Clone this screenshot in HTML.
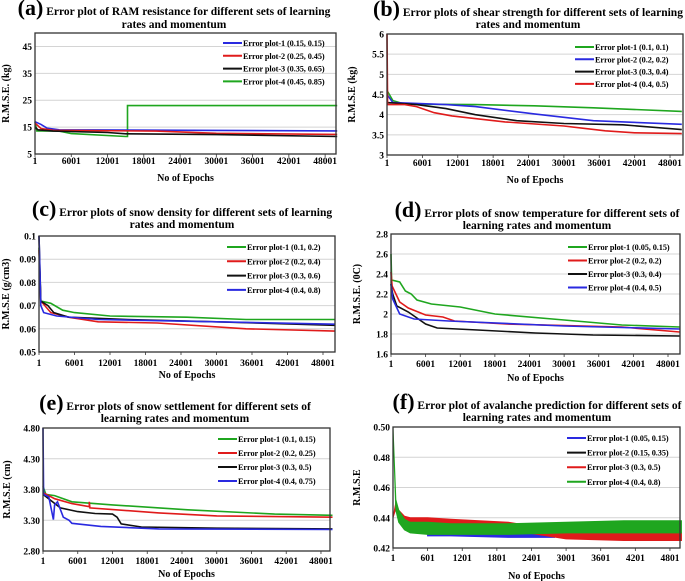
<!DOCTYPE html>
<html><head><meta charset="utf-8"><style>
html,body{margin:0;padding:0;background:#fff;}
svg{display:block;font-family:"Liberation Serif",serif;font-weight:bold;}
</style></head><body>
<svg id="fig" width="685" height="581" viewBox="0 0 685 581"></svg>
<script>
// ---- data ----
const xTicksA = [1,6001,12001,18001,24001,30001,36001,42001,48001];
const xTicksF = [1,601,1201,1801,2401,3001,3601,4201,4801];

const aTicks = [5,15,25,35,45];
const aBlue  = [[1,17],[1000,16],[2000,14.6],[4000,14],[50000,13.6]];
const aRed   = [[1,16.5],[1000,14.5],[3000,13.8],[20000,13.5],[30000,12.7],[50000,12.3]];
const aBlack = [[1,15],[500,14],[3000,13.5],[12000,13],[15000,12.5],[30000,12.2],[50000,11.5]];
const aGreen = [[1,17],[300,13.6],[4000,13.5],[6000,12.6],[15000,11.5],[15300,11.5],[15300,23],[50000,23]];

const bTicks = [3,3.5,4,4.5,5,5.5,6];
const bGreen = [[1,4.6],[1000,4.35],[3000,4.26],[15000,4.25],[25000,4.22],[35000,4.17],[50000,4.08]];
const bBlue  = [[1,4.5],[1000,4.3],[10000,4.25],[15000,4.2],[25000,4.02],[35000,3.85],[50000,3.76]];
const bBlack = [[1,4.3],[5000,4.25],[10000,4.15],[15000,4.0],[22000,3.85],[30000,3.78],[40000,3.75],[50000,3.63]];
const bRed   = [[1,6],[100,4.25],[3000,4.25],[5000,4.2],[8000,4.05],[11000,3.97],[20000,3.82],[30000,3.72],[37000,3.6],[42000,3.55],[50000,3.53]];

const cTicks = [0.05,0.06,0.07,0.08,0.09,0.1];
const cGreen = [[1,0.095],[300,0.072],[2000,0.071],[4000,0.068],[6000,0.067],[12000,0.0655],[25000,0.065],[35000,0.064],[50000,0.064]];
const cRed   = [[1,0.094],[300,0.072],[2000,0.067],[5000,0.065],[10000,0.063],[20000,0.0625],[35000,0.06],[50000,0.059]];
const cBlack = [[1,0.1],[300,0.072],[1500,0.07],[2500,0.067],[5000,0.065],[15000,0.064],[30000,0.063],[50000,0.0615]];
const cBlue  = [[1,0.1],[300,0.07],[800,0.067],[3000,0.0655],[10000,0.064],[30000,0.063],[50000,0.062]];

const dTicks = [1.6,1.8,2,2.2,2.4,2.6,2.8];
const dGreen = [[1,2.6],[100,2.34],[1500,2.32],[2500,2.23],[3500,2.2],[4500,2.14],[7000,2.1],[12000,2.07],[18000,2.0],[30000,1.94],[40000,1.89],[50000,1.87]];
const dRed   = [[1,2.42],[200,2.28],[1500,2.12],[3000,2.06],[6000,1.99],[9000,1.97],[11000,1.93],[20000,1.9],[40000,1.87],[50000,1.82]];
const dBlack = [[1,2.3],[300,2.2],[1000,2.08],[3000,2.02],[6000,1.9],[8000,1.86],[15000,1.84],[25000,1.81],[35000,1.79],[50000,1.78]];
const dBlue  = [[1,2.3],[300,2.15],[1500,2.0],[4000,1.95],[10000,1.93],[30000,1.88],[50000,1.85]];

const eTicks = [2.8,3.3,3.8,4.3,4.8];
const eGreen = [[1,3.85],[500,3.72],[2000,3.7],[5000,3.6],[12000,3.55],[25000,3.47],[40000,3.4],[50000,3.38]];
const eRed   = [[1,3.75],[2000,3.65],[5000,3.57],[8000,3.52],[8001,3.6],[8100,3.5],[20000,3.42],[30000,3.37],[50000,3.35]];
const eBlack = [[1,3.72],[3000,3.5],[6000,3.44],[9000,3.41],[12000,3.4],[12800,3.35],[13500,3.24],[17000,3.19],[30000,3.17],[50000,3.16]];
const eBlue  = [[1,4.8],[100,3.72],[1000,3.68],[1800,3.31],[2000,3.55],[2500,3.6],[3500,3.35],[4500,3.3],[5000,3.25],[10000,3.2],[20000,3.16],[50000,3.15]];

const fTicks = [0.42,0.44,0.46,0.48,0.50];
const fEpochs     = [1,50,100,200,300,600,1000,2000,3000,4000,5000];
const fGreenUpper = [0.50,0.452,0.445,0.439,0.437,0.437,0.436,0.436,0.437,0.438,0.438];
const fGreenLower = [0.50,0.445,0.437,0.432,0.43,0.429,0.429,0.429,0.43,0.43,0.43];
const fRedUpper   = [0.44,0.45,0.445,0.441,0.44,0.44,0.439,0.437,0.431,0.43,0.43];
const fRedLower   = [0.44,0.446,0.439,0.436,0.435,0.434,0.434,0.432,0.426,0.425,0.425];
const fBlueEpochs = [600,1000,2000,2800];
const fBlueUpper  = [0.431,0.431,0.43,0.43];
const fBlueLower  = [0.428,0.428,0.427,0.427];

// ---- drawing ----
const NS="http://www.w3.org/2000/svg";
const svg=document.getElementById('fig');
function el(tag,attrs,parent,txt){const e=document.createElementNS(NS,tag);for(const k in attrs)e.setAttribute(k,attrs[k]);if(txt!==undefined)e.textContent=txt;(parent||svg).appendChild(e);return e;}
const COL={green:'#1fa61f',red:'#e01b1b',black:'#111',blue:'#2a2ae0'};

function panel(p){
  const g=el('g',{});
  
  
  const X=v=>p.L+(v-p.xmin)/(p.xmax-p.xmin)*(p.R-p.L);
  const Y=v=>p.B-(v-p.ymin)/(p.ymax-p.ymin)*(p.B-p.T);
  const t=el('text',{x:p.tc,y:p.t1,'text-anchor':'middle','font-size':'11.5'},g);
  
  
  el('tspan',{'font-size':'22'},t,'('+p.id+')');
  el('tspan',{},t,' '+p.title1);
  const t2=el('text',{x:p.tc,y:p.t2,'text-anchor':'middle','font-size':'11.5'},g,p.title2);
  
  
  p.yticks.forEach(v=>{
    const y=Y(v);
    if(v!==p.ymin&&v!==p.ymax){const gl=el('line',{x1:p.L,x2:p.R,y1:y,y2:y,stroke:'#d4d4d4','stroke-width':1},g);
      }
    const tl=el('text',{x:p.L-3,y:y+3.5,'text-anchor':'end','font-size':'9.5'},g,p.yfmt?p.yfmt(v):String(v));
    
    
  });
  p.xticks.forEach(v=>{
    const x=X(v);
    el('line',{x1:x,x2:x,y1:p.B,y2:p.B+3,stroke:'#333','stroke-width':0.8},g);
    const tl=el('text',{x:x,y:p.xtb,'text-anchor':'middle','font-size':'9.5'},g,String(v));
    
    
  });
  (p.bands||[]).forEach(b=>{
    let pts=b.ex.map((e,i)=>X(e)+','+Y(b.up[i]));
    pts=pts.concat(b.ex.map((e,i)=>X(e)+','+Y(b.lo[i])).reverse());
    const pg=el('polygon',{points:pts.join(' '),fill:COL[b.c],stroke:COL[b.c],'stroke-width':1},g);
    
    
  });
  (p.series||[]).forEach(s=>{
    const d=s.data.map((q,i)=>(i?'L':'M')+X(q[0]).toFixed(1)+','+Y(q[1]).toFixed(1)).join('');
    const pa=el('path',{d:d,fill:'none',stroke:COL[s.c],'stroke-width':1.6},g);
    
    
  });
  const fr=el('rect',{x:p.L,y:p.T,width:p.R-p.L,height:p.B-p.T,fill:'none',stroke:'#333','stroke-width':1.3},g);
  
  
  p.legend.forEach((l,i)=>{
    const y=p.lgy+i*p.lgdy;
    const ll=el('line',{x1:p.lgx,x2:p.lgx+19,y1:y,y2:y,stroke:COL[l[0]],'stroke-width':2},g);
    
    
    const lt=el('text',{x:p.lgx+20,y:y+3,'font-size':'8.3','letter-spacing':'-0.1'},g,l[1]);
    
    
  });
  const xt=el('text',{x:(p.L+p.R)/2,y:p.xTitleY,'text-anchor':'middle','font-size':'10'},g,'No of Epochs');
  
  
  const yc=(p.T+p.B)/2;
  const yt=el('text',{x:p.yTitleX,y:yc,'text-anchor':'middle','font-size':'10',transform:'rotate(-90 '+p.yTitleX+' '+yc+')'},g,p.ylabel);
  
  
}

panel({id:'a',L:35,R:336,T:33,B:154,xmin:1,xmax:49800,ymin:5,ymax:50,yticks:aTicks,xticks:xTicksA,
  title1:'Error  plot  of RAM resistance for  different  sets of learning',title2:'rates and  momentum',tc:174,t1:15,t2:28,
  xtb:164,xTitleY:181,yTitleX:9,ylabel:'R.M.S.E.  (kg)',lgx:223,lgy:43,lgdy:12.8,
  legend:[['blue','Error plot-1 (0.15, 0.15)'],['red','Error plot-2 (0.25, 0.45)'],['black','Error plot-3 (0.35, 0.65)'],['green','Error plot-4 (0.45, 0.85)']],
  series:[{c:'green',data:aGreen},{c:'blue',data:aBlue},{c:'red',data:aRed},{c:'black',data:aBlack}]});

panel({id:'b',L:387,R:683,T:34,B:155,xmin:1,xmax:50200,ymin:3,ymax:6,yticks:bTicks,xticks:xTicksA,
  title1:'Error  plots  of shear strength  for  different  sets of learning',title2:'rates and  momentum',tc:528,t1:16,t2:28,
  xtb:166,xTitleY:183,yTitleX:355,ylabel:'R.M.S.E  (kg)',lgx:575,lgy:47,lgdy:12.3,
  legend:[['green','Error plot-1 (0.1, 0.1)'],['blue','Error plot-2 (0.2, 0.2)'],['black','Error plot-3 (0.3, 0.4)'],['red','Error plot-4 (0.4, 0.5)']],
  series:[{c:'green',data:bGreen},{c:'blue',data:bBlue},{c:'black',data:bBlack},{c:'red',data:bRed}]});

panel({id:'c',L:39,R:335,T:236,B:352,xmin:1,xmax:50030,ymin:0.05,ymax:0.1,yticks:cTicks,xticks:xTicksA,
  title1:'Error  plots of snow  density  for different  sets of learning',title2:'rates and  momentum',tc:182,t1:216,t2:228,
  xtb:366,xTitleY:378,yTitleX:9,ylabel:'R.M.S.E  (g/cm3)',lgx:227,lgy:247,lgdy:14.3,
  legend:[['green','Error plot-1 (0.1, 0.2)'],['red','Error plot-2 (0.2, 0.4)'],['black','Error plot-3 (0.3, 0.6)'],['blue','Error plot-4 (0.4, 0.8)']],
  series:[{c:'green',data:cGreen},{c:'red',data:cRed},{c:'black',data:cBlack},{c:'blue',data:cBlue}]});

panel({id:'d',L:391,R:680,T:234,B:354,xmin:1,xmax:50080,ymin:1.6,ymax:2.8,yticks:dTicks,xticks:xTicksA,
  yfmt:v=>String(v),
  title1:'Error  plots of snow temperature  for different  sets of',title2:'learning  rates and momentum',tc:537,t1:217,t2:229,
  xtb:367,xTitleY:381,yTitleX:360,ylabel:'R.M.S.E.   (0C)',lgx:568,lgy:247,lgdy:13.5,
  legend:[['green','Error plot-1 (0.05, 0.15)'],['red','Error plot-2 (0.2, 0.2)'],['black','Error plot-3 (0.3, 0.4)'],['blue','Error plot-4 (0.4, 0.5)']],
  series:[{c:'green',data:dGreen},{c:'red',data:dRed},{c:'black',data:dBlack},{c:'blue',data:dBlue}]});

panel({id:'e',L:43,R:330,T:428,B:551,xmin:1,xmax:49560,ymin:2.8,ymax:4.8,yticks:eTicks,xticks:xTicksA,
  yfmt:v=>v.toFixed(2),
  title1:'Error  plots of snow  settlement for  different  sets of',title2:'learning  rates and momentum',tc:175,t1:410,t2:422,
  xtb:564,xTitleY:577,yTitleX:10,ylabel:'R.M.S.E   (cm)',lgx:218,lgy:439,lgdy:14,
  legend:[['green','Error plot-1 (0.1, 0.15)'],['red','Error plot-2 (0.2, 0.25)'],['black','Error plot-3 (0.3, 0.5)'],['blue','Error plot-4 (0.4, 0.75)']],
  series:[{c:'green',data:eGreen},{c:'red',data:eRed},{c:'black',data:eBlack},{c:'blue',data:eBlue}]});

panel({id:'f',L:393,R:680,T:427,B:548,xmin:1,xmax:4975,ymin:0.42,ymax:0.50,yticks:fTicks,xticks:xTicksF,
  yfmt:v=>v.toFixed(2),
  title1:'Error  plot  of avalanche prediction  for different sets of',title2:'learning  rates and momentum',tc:537,t1:409,t2:421,
  xtb:561,xTitleY:579,yTitleX:360,ylabel:'R.M.S.E',lgx:567,lgy:438,lgdy:14.6,
  legend:[['blue','Error plot-1 (0.05, 0.15)'],['black','Error plot-2 (0.15, 0.35)'],['red','Error plot-3 (0.3, 0.5)'],['green','Error plot-4 (0.4, 0.8)']],
  bands:[{c:'blue',ex:fBlueEpochs,up:fBlueUpper,lo:fBlueLower},
         {c:'red',ex:fEpochs,up:fRedUpper,lo:fRedLower},
         {c:'green',ex:fEpochs,up:fGreenUpper,lo:fGreenLower}]});
</script>
</body></html>
